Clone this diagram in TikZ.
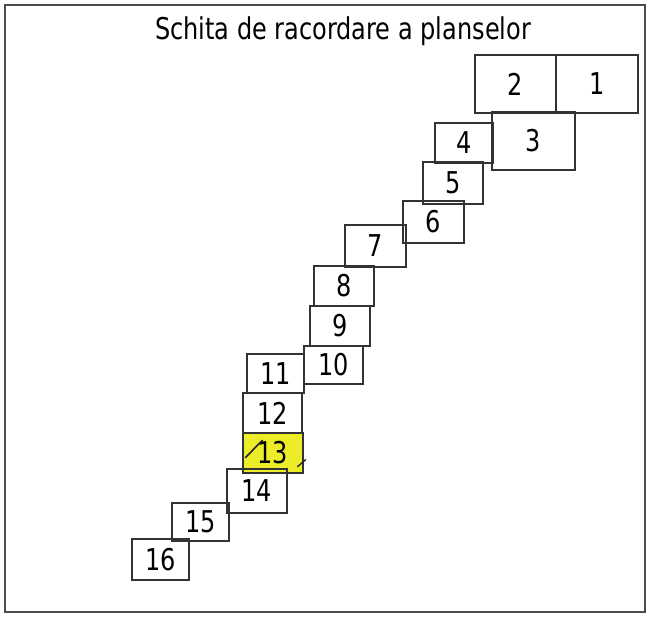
\documentclass[tikz,border=0pt]{standalone}
\usepackage{fontspec}
\newfontfamily\plfont[FakeStretch=0.8]{DejaVu Sans}
\definecolor{plgalben}{RGB}{236,236,40}
\begin{document}
\begin{tikzpicture}
			[x=1pt, y=-1pt,
			 pl/.style={draw=black!80, line width=1.3pt, inner sep=0pt, font=\plfont\fontsize{30}{30}\selectfont},
			 every node/.style={text=black}]
			\useasboundingbox (0,0) rectangle (648,618);
			\draw[black!70, line width=1.5pt] (5,5) rectangle (645,612);
			\node[font=\plfont\fontsize{30}{30}\selectfont] (t) at (343,31) {Schita de racordare a planselor};
			
			\node[pl, minimum width=82pt, minimum height=58pt] (p1) at (597,84) {1};
			\node[pl, minimum width=81pt, minimum height=58pt] (p2) at (515.5,84) {2};
			\node[pl, minimum width=83pt, minimum height=58pt] (p3) at (533.5,141) {3};
			\node[pl, minimum width=58pt, minimum height=40pt] (p4) at (464,143) {4};
			\node[pl, minimum width=60pt, minimum height=42pt] (p5) at (453,183) {5};
			\node[pl, minimum width=61pt, minimum height=42pt] (p6) at (433.5,222) {6};
			\node[pl, minimum width=61pt, minimum height=42pt] (p7) at (375.5,246) {7};
			\node[pl, minimum width=60pt, minimum height=40pt] (p8) at (344,286) {8};
			\node[pl, minimum width=60pt, minimum height=40pt] (p9) at (340,326) {9};
			\node[pl, minimum width=59pt, minimum height=38pt] (p10) at (333.5,365) {10};
			\node[pl, minimum width=57pt, minimum height=39pt] (p11) at (275.5,373.5) {11};
			\node[pl, minimum width=59pt, minimum height=40pt] (p12) at (272.5,413) {12};
			\node[pl, fill=plgalben, minimum width=60pt, minimum height=40pt] (p13) at (273,453) {13};
			\node[pl, minimum width=60pt, minimum height=44pt] (p14) at (257,491) {14};
			\node[pl, minimum width=57pt, minimum height=38pt] (p15) at (200.5,522) {15};
			\node[pl, minimum width=57pt, minimum height=41pt] (p16) at (160.5,559.5) {16};
			
			% plansa 13 taiata
			\draw[line width=1.6pt, black!85, line cap=round] ([shift={(3,-16)}]p13.south west) -- ([shift={(20,8)}]p13.north west);
			\draw[line width=1.4pt, black!85, line cap=round] ([shift={(-6,-7)}]p13.south east) -- ([shift={(2,-14)}]p13.south east);
		\end{tikzpicture}
\end{document}
